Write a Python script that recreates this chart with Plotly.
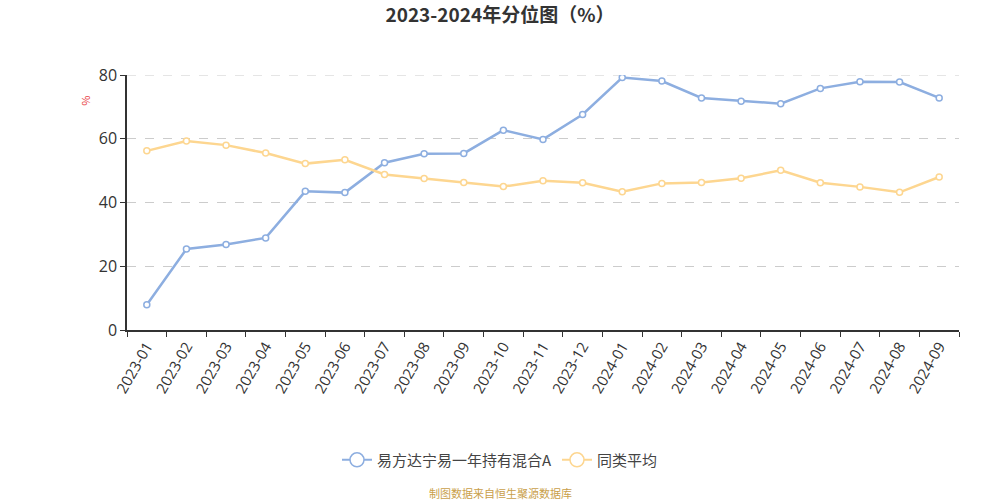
import plotly.graph_objects as go

categories = ["2023-01","2023-02","2023-03","2023-04","2023-05","2023-06","2023-07",
              "2023-08","2023-09","2023-10","2023-11","2023-12","2024-01","2024-02",
              "2024-03","2024-04","2024-05","2024-06","2024-07","2024-08","2024-09"]
fund_values = [7.9, 25.4, 26.8, 28.9, 43.5, 43.1, 52.5, 55.3, 55.4, 62.7, 59.8, 67.6,
               79.2, 78.1, 72.8, 71.8, 71.0, 75.8, 77.9, 77.8, 72.8]
peer_values = [56.2, 59.3, 58.0, 55.5, 52.2, 53.4, 48.8, 47.5, 46.3, 45.0, 46.8, 46.2,
               43.4, 46.0, 46.3, 47.6, 50.1, 46.2, 44.9, 43.2, 48.0]
y_ticks = [0, 20, 40, 60, 80]
fund_name = "易方达宁易一年持有混合A"
peer_name = "同类平均"

blue = "#8daee0"
yellow = "#fdd690"
font = "Noto Sans CJK SC"

fig = go.Figure()
for name, vals, col in [(fund_name, fund_values, blue), (peer_name, peer_values, yellow)]:
    fig.add_trace(go.Scatter(
        x=categories, y=vals, name=name, mode="lines+markers", showlegend=False,
        legendgroup=name,
        line=dict(color=col, width=2.5),
        marker=dict(symbol="circle", size=6, color="white", line=dict(color=col, width=1.5)),
    ))
    # legend-only entry with larger symbol
    fig.add_trace(go.Scatter(
        x=[None], y=[None], name=name, mode="lines+markers", showlegend=True,
        legendgroup=name,
        line=dict(color=col, width=2),
        marker=dict(symbol="circle", size=14, color="white", line=dict(color=col, width=1.5)),
    ))

cx = (500 - 127) / 832  # paper x of the page centre

# top gridline (plotly drops the gridline at the range edge)
fig.add_shape(type="line", xref="paper", yref="y", x0=0, x1=1,
              y0=y_ticks[-1], y1=y_ticks[-1], layer="below",
              line=dict(color="#cccccc", width=1, dash="dash"))

fig.update_layout(
    width=1000, height=500,
    paper_bgcolor="white", plot_bgcolor="white",
    margin=dict(l=127, r=41, t=75, b=170),
    font=dict(family=font, color="#333"),
    title=dict(text="<b>2023-2024年分位图（%）</b>", x=0.5, xanchor="center",
               y=0.97, yanchor="middle", font=dict(size=19, color="#333", family=font)),
    showlegend=True,
    legend=dict(orientation="h", x=cx, xanchor="center", y=-0.51, yanchor="middle",
                font=dict(size=15, color="#444")),
    xaxis=dict(type="category", range=[-0.5, len(categories) - 0.5],
               tickson="boundaries", ticks="outside", ticklen=5, tickcolor="#333",
               showline=True, linecolor="#333", linewidth=1.5, showgrid=False,
               tickangle=-60, tickfont=dict(size=15, color="#333", family="Open Sans")),
    yaxis=dict(range=[0, 80], tickvals=y_ticks, ticks="outside", ticklen=5,
               tickcolor="#333", showline=True, linecolor="#333", linewidth=1.5,
               showgrid=True, gridcolor="#cccccc", griddash="dash", gridwidth=1,
               zeroline=False, tickfont=dict(size=16, color="#333", family="Open Sans")),
    annotations=[
        dict(text="%", xref="paper", yref="paper", x=-0.047, y=0.90, xanchor="center",
             yanchor="middle", showarrow=False,
             textangle=90, font=dict(size=11, color="#e8383d")),
        dict(text="制图数据来自恒生聚源数据库", xref="paper", yref="paper", x=cx, y=-0.64,
             xanchor="center", yanchor="middle", showarrow=False,
             font=dict(size=11, color="#c9a04a")),
    ],
)

fig.write_html("out.html", post_script="document.body.style.margin='0px';",
               config={"displayModeBar": False})
